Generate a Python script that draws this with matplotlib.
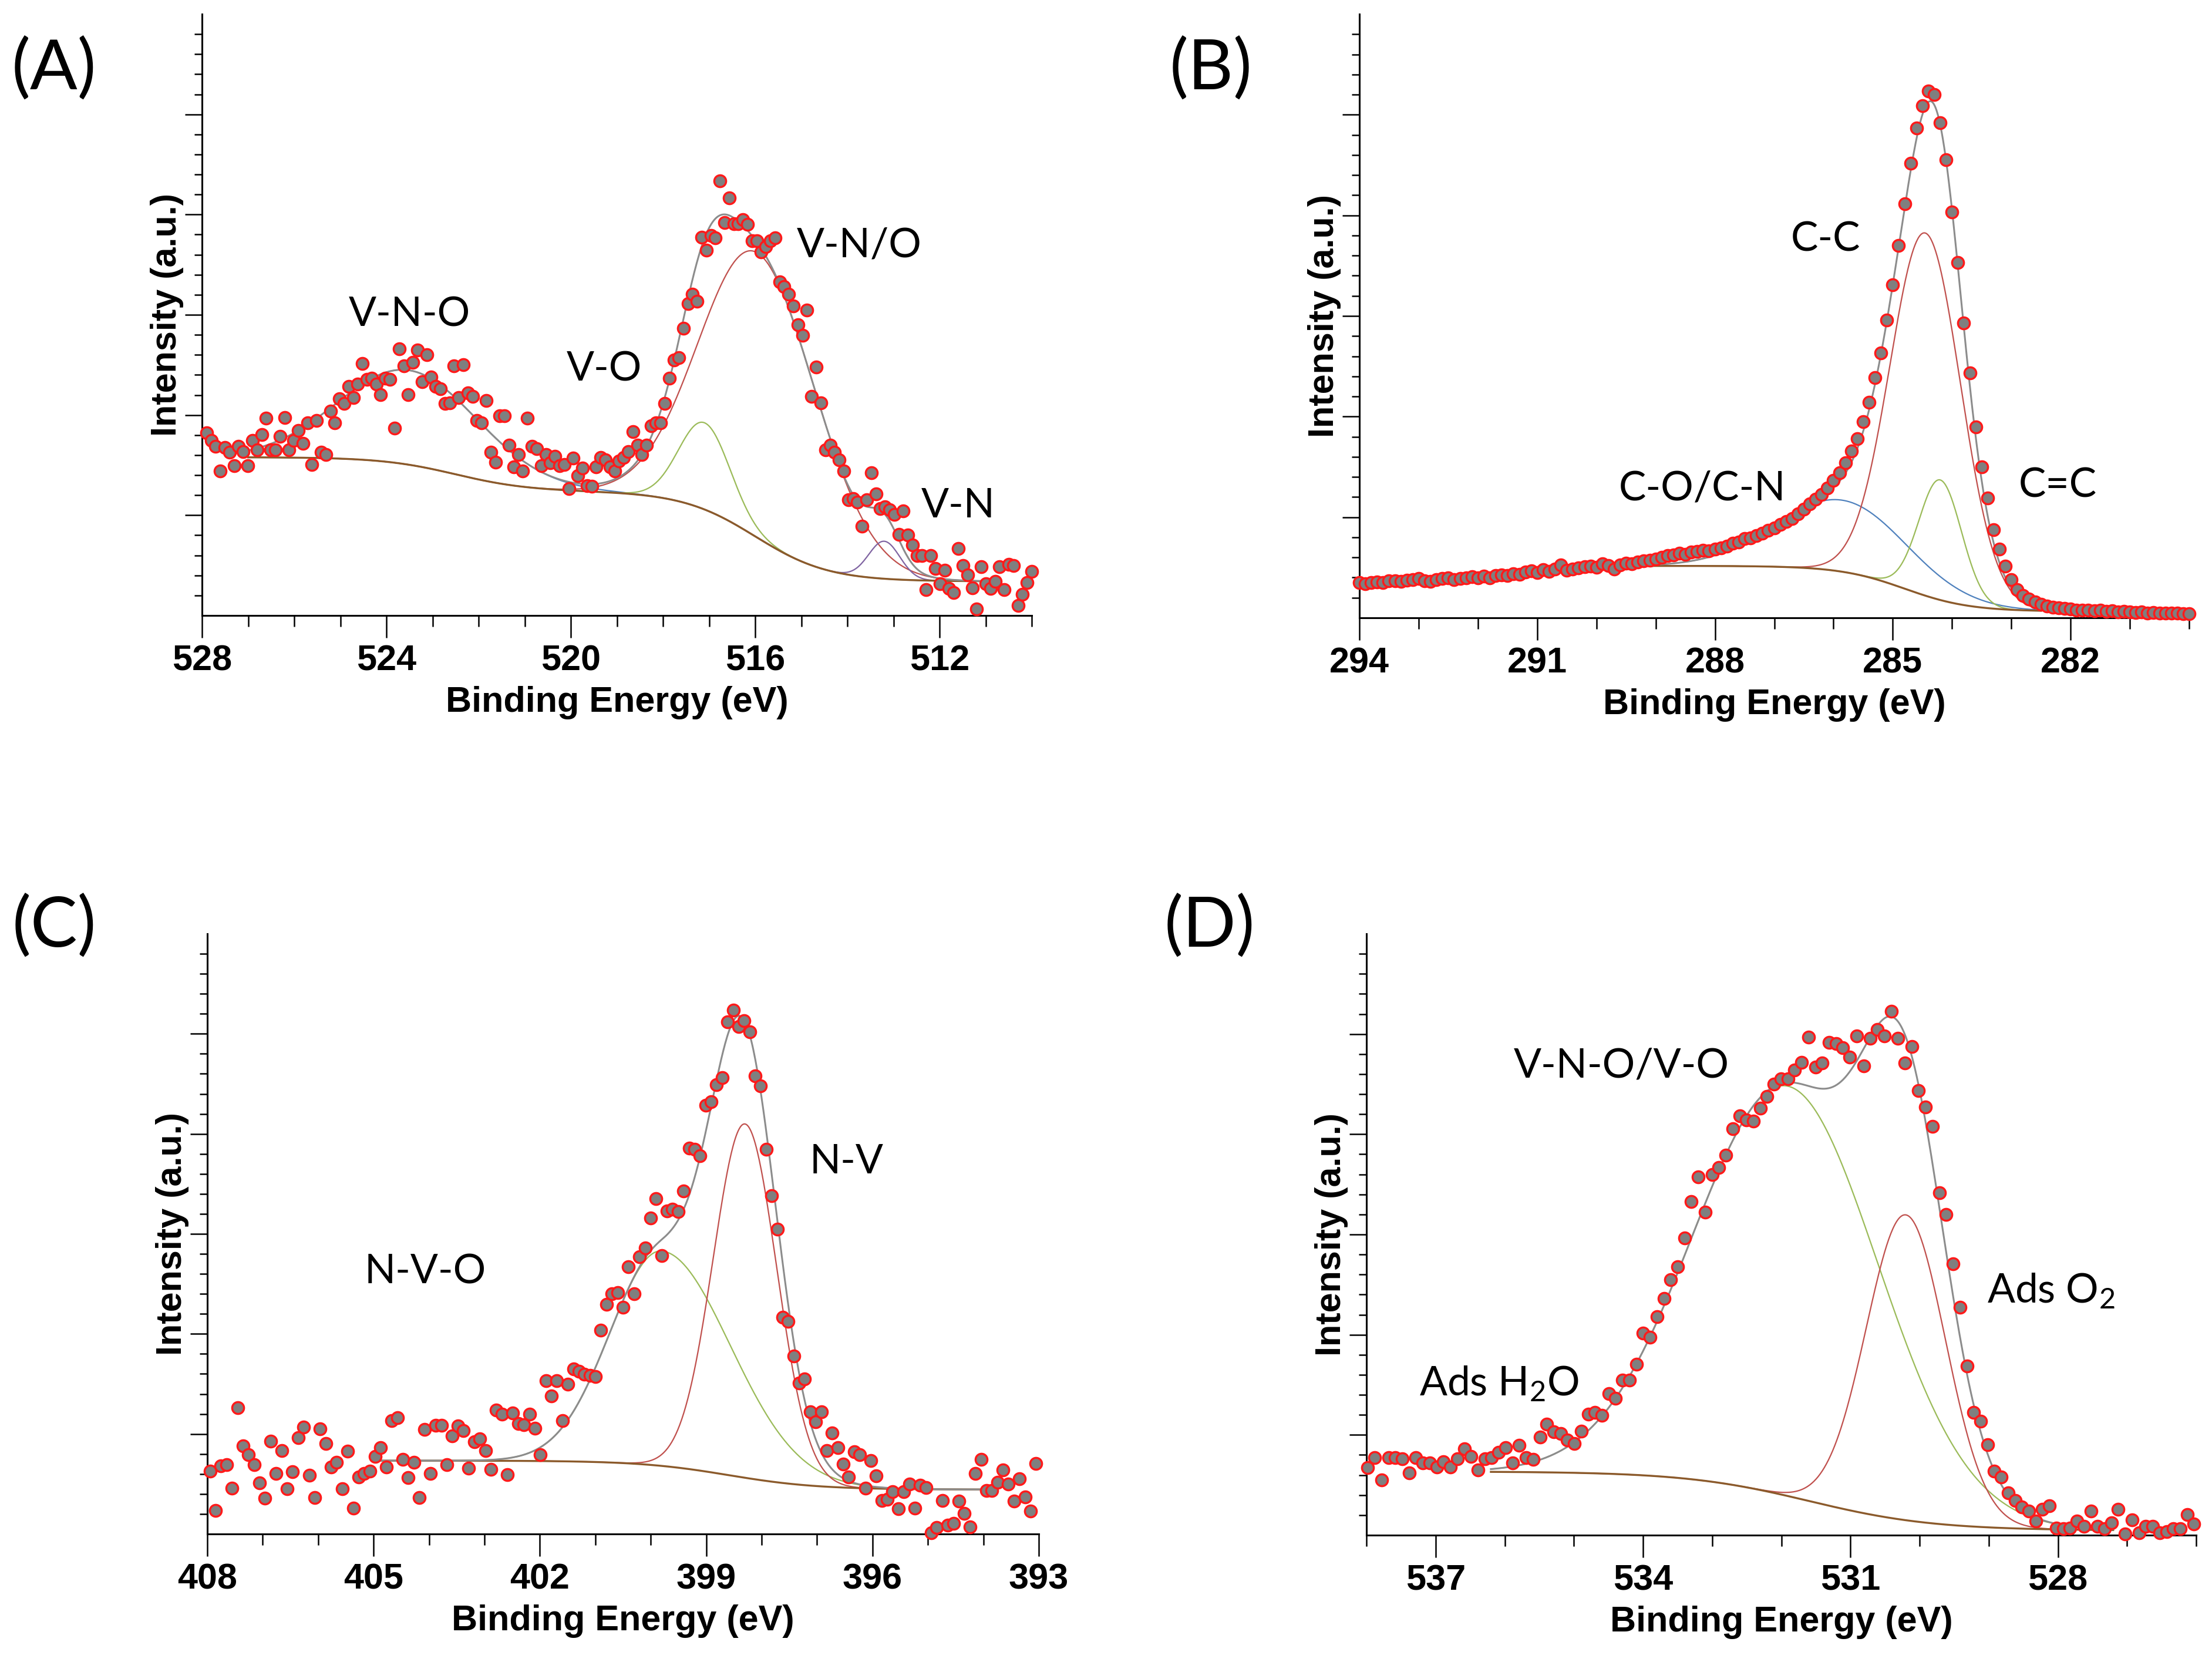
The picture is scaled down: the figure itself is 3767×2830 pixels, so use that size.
import numpy as np
import matplotlib.pyplot as plt
from matplotlib import font_manager
from matplotlib.ticker import FixedLocator

plt.rcParams['font.family'] = ['Liberation Sans', 'DejaVu Sans']
plt.rcParams['mathtext.fontset'] = 'custom'
plt.rcParams['mathtext.rm'] = 'Lato'
plt.rcParams['mathtext.it'] = 'Lato'

# axis text is a condensed bold face; use the narrow Liberation cut when it exists
installed = {f.name for f in font_manager.fontManager.ttflist}
if 'Liberation Sans Narrow' in installed:
    AXFONT, AXSIZE = 'Liberation Sans Narrow', 54
else:
    AXFONT, AXSIZE = 'Liberation Sans', 44

W, H = 3767, 2830
DPI = 100

# ---------------- (A) V 2p ----------------
a_start, a_stop = 527.9, 510.0
a_counts = [375, 360, 347, 297, 345, 335, 307, 347, 337, 307,
            360, 340, 372, 405, 340, 340, 368, 407, 340, 360,
            380, 353, 395, 310, 400, 335, 330, 420, 395, 445,
            435, 470, 447, 475, 517, 485, 487, 475, 453, 487,
            485, 385, 547, 513, 453, 520, 545, 480, 535, 490,
            470, 465, 435, 437, 513, 447, 515, 457, 450, 400,
            395, 442, 335, 315, 410, 410, 350, 305, 330, 297,
            405, 347, 343, 307, 330, 313, 327, 307, 310, 260,
            323, 287, 303, 267, 265, 305, 325, 320, 305, 297,
            317, 325, 337, 377, 350, 330, 350, 390, 395, 395,
            435, 487, 525, 530, 590, 640, 660, 645, 777, 750,
            780, 775, 893, 807, 857, 805, 805, 813, 803, 770,
            770, 747, 757, 770, 775, 685, 675, 660, 635, 597,
            575, 627, 450, 510, 437, 340, 350, 335, 320, 297,
            237, 240, 233, 183, 237, 293, 250, 220, 223, 217,
            207, 167, 215, 165, 145, 123, 123, 53, 123, 97,
            65, 93, 55, 47, 137, 103, 83, 57, 13, 100,
            65, 55, 70, 100, 53, 105, 103, 20, 43, 67, 90]
a_ymax = 1235
a_xlim = (528, 510)
a_xticks = [528, 524, 520, 516, 512]
a_fit = (527.0, 510.9)
a_bg_base = 70
a_bg_step = [185, 70]
a_bg_center = [516.0, 522.5]
a_bg_width = [0.8, 0.8]
a_pk_center = [523.5, 517.1, 515.95, 513.2]
a_pk_height = [194, 178, 585, 77]
a_pk_fwhm_hi = [3.6, 1.3, 2.9, 0.8]
a_pk_fwhm_lo = [3.6, 1.3, 3.0, 0.8]
a_pk_color = ['#4f81bd', '#9bbb59', '#c0504d', '#8064a2']
a_labels = ['V-N-O', 'V-O', 'V-N/O', 'V-N']
a_label_x = [523.5, 519.27, 513.74, 511.6]
a_label_y = [617, 505, 760, 225]

# ---------------- (B) C 1s ----------------
b_start, b_stop = 294.0, 280.0
b_counts = [72, 70, 72, 73, 72, 75, 76, 74, 77, 78, 80,
            76, 74, 78, 80, 81, 78, 80, 82, 84, 82,
            85, 82, 86, 88, 86, 90, 89, 93, 96, 92,
            98, 95, 100, 108, 97, 100, 102, 104, 106, 103,
            110, 107, 100, 108, 112, 110, 114, 116, 118, 120,
            124, 127, 128, 132, 130, 134, 136, 138, 137, 140,
            143, 146, 152, 155, 162, 163, 168, 172, 178, 183,
            190, 196, 203, 212, 222, 232, 242, 252, 265, 280,
            296, 316, 340, 366, 400, 440, 490, 540, 608, 680,
            760, 845, 928, 1000, 1045, 1075, 1068, 1010, 935, 828,
            725, 602, 500, 390, 308, 245, 180, 140, 105, 78,
            58, 46, 38, 32, 28, 24, 22, 20, 19, 18,
            16, 16, 15, 14, 15, 13, 14, 12, 13, 12,
            11, 12, 10, 11, 10, 9, 10, 9, 8, 8]
b_ymax = 1232
b_xlim = (294, 280)
b_xticks = [294, 291, 288, 285, 282]
b_fit = (289.9, 282.5)
b_bg_base = 13
b_bg_step = [93]
b_bg_center = [284.8]
b_bg_width = [0.55]
b_pk_center = [285.85, 284.45, 284.2]
b_pk_height = [146, 740, 245]
b_pk_fwhm_hi = [2.6, 1.4, 0.85]
b_pk_fwhm_lo = [2.6, 1.4, 0.85]
b_pk_color = ['#4f81bd', '#c0504d', '#9bbb59']
b_labels = ['C-C', 'C-O/C-N', 'C=C']
b_label_x = [286.13, 288.21, 282.22]
b_label_y = [772, 264, 270]

# ---------------- (C) N 1s ----------------
c_start, c_stop = 407.95, 393.05
c_counts = [122, 45, 132, 134, 89, 245, 170, 154, 134, 99,
            69, 180, 117, 162, 87, 120, 187, 207, 114, 70,
            204, 175, 130, 139, 87, 160, 50, 110, 117, 122,
            150, 167, 130, 220, 225, 144, 109, 139, 70, 202,
            117, 210, 210, 134, 190, 209, 200, 127, 179, 184,
            162, 125, 240, 232, 115, 234, 214, 212, 232, 205,
            154, 297, 267, 297, 220, 290, 319, 315, 309, 307,
            305, 395, 444, 465, 467, 439, 517, 465, 537, 554,
            612, 649, 539, 625, 629, 624, 664, 747, 745, 732,
            830, 837, 870, 884, 992, 1014, 982, 994, 972, 887,
            867, 745, 655, 590, 419, 412, 345, 292, 300, 237,
            217, 237, 162, 195, 167, 135, 110, 159, 154, 89,
            142, 112, 65, 67, 82, 49, 82, 97, 50, 94,
            90, 2, 12, 65, 17, 20, 64, 40, 14, 117,
            144, 84, 84, 100, 124, 97, 64, 107, 72, 44, 137]
c_ymax = 1162
c_xlim = (408, 393)
c_xticks = [408, 405, 402, 399, 396, 393]
c_fit = (404.9, 394.0)
c_bg_base = 86
c_bg_step = [56]
c_bg_center = [398.6]
c_bg_width = [0.8]
c_pk_center = [399.8, 398.3]
c_pk_height = [416, 685]
c_pk_fwhm_hi = [2.2, 1.35]
c_pk_fwhm_lo = [2.9, 1.35]
c_pk_color = ['#9bbb59', '#c0504d']
c_labels = ['N-V-O', 'N-V']
c_label_x = [404.07, 396.47]
c_label_y = [507, 720]

# ---------------- (D) O 1s ----------------
d_start, d_stop = 537.98, 526.03
d_counts = [130, 150, 107, 150, 150, 147, 120, 150, 140, 140,
            132, 142, 132, 147, 167, 152, 126, 147, 150, 160,
            169, 140, 174, 150, 146, 190, 214, 200, 196, 184,
            177, 201, 234, 237, 232, 274, 264, 300, 300, 330,
            390, 382, 422, 457, 494, 519, 574, 644, 692, 624,
            697, 710, 734, 785, 810, 802, 800, 825, 848, 872,
            882, 882, 899, 914, 962, 904, 912, 952, 950, 942,
            924, 964, 907, 960, 977, 964, 1012, 960, 912, 944,
            859, 827, 790, 662, 620, 524, 440, 327, 237, 220,
            175, 124, 112, 82, 67, 54, 47, 27, 50, 57,
            14, 12, 14, 27, 17, 47, 17, 12, 24, 50,
            2, 30, 4, 17, 17, 4, 7, 12, 12, 40, 22]
d_ymax = 1162
d_xlim = (538, 526)
d_xticks = [537, 534, 531, 528]
d_fit = (536.2, 527.2)
d_bg_base = 9
d_bg_step = [114]
d_bg_center = [531.6]
d_bg_width = [0.9]
d_pk_center = [531.9, 530.2]
d_pk_height = [792, 590]
d_pk_fwhm_hi = [3.2, 1.35]
d_pk_fwhm_lo = [3.1, 1.35]
d_pk_color = ['#9bbb59', '#c0504d']
d_labels = ['V-N-O/V-O', 'Ads O$_2$', 'Ads H$_2$O']
d_label_x = [534.31, 528.1, 536.08]
d_label_y = [907, 472, 292]


def shirley(e, base, steps, centers, widths):
    out = np.full_like(e, float(base))
    for s, c, w in zip(steps, centers, widths):
        out += s / (1 + np.exp(-(e - c) / w))
    return out


def gauss(e, c, h, f_hi, f_lo):
    f = np.where(e >= c, f_hi, f_lo)
    return h * np.exp(-4 * np.log(2) * ((e - c) / f) ** 2)


def panel(ax, start, stop, counts, ymax, xlim, xticks, fit,
          bg_base, bg_step, bg_center, bg_width,
          pk_center, pk_height, pk_hi, pk_lo, pk_color,
          labels, lx, ly):
    energy = np.linspace(start, stop, len(counts))
    e = np.linspace(fit[0], fit[1], 600)
    bg = shirley(e, bg_base, bg_step, bg_center, bg_width)
    total = bg.copy()
    for c, h, fh, fl, col in zip(pk_center, pk_height, pk_hi, pk_lo, pk_color):
        p = gauss(e, c, h, fh, fl)
        total += p
        ax.plot(e, bg + p, color=col, lw=1.6, zorder=2)
    ax.plot(e, bg, color='#8b5a2b', lw=2.4, zorder=2.2)
    ax.plot(e, total, color='#8c8c8c', lw=2.2, zorder=2.4)
    ax.plot(energy, counts, 'o', ms=14.5, mfc='#7f7f7f', mec='#ff1a1a',
            mew=2.5, clip_on=False, zorder=3)

    ax.set_xlim(*xlim)
    ax.set_ylim(0, ymax)
    lo, hi = min(xlim), max(xlim)
    ax.set_xticks(xticks)
    ax.set_xticklabels([str(t) for t in xticks], fontweight='bold',
                       family=AXFONT, fontsize=AXSIZE)
    ax.xaxis.set_minor_locator(FixedLocator(np.arange(lo, hi + 1)))
    step = ymax / 6
    ax.yaxis.set_major_locator(FixedLocator([step * k for k in range(1, 6)]))
    ax.yaxis.set_minor_locator(FixedLocator([step / 5 * k for k in range(1, 30) if k % 5]))
    ax.tick_params(axis='x', which='major', length=27, width=1.8, pad=9)
    ax.tick_params(axis='x', which='minor', length=14, width=1.8)
    ax.tick_params(axis='y', which='major', length=21, width=1.8, labelleft=False)
    ax.tick_params(axis='y', which='minor', length=9.5, width=1.8)
    for s in ['top', 'right']:
        ax.spines[s].set_visible(False)
    for s in ['left', 'bottom']:
        ax.spines[s].set_linewidth(2.2)
    ax.set_xlabel('Binding Energy (eV)', fontsize=AXSIZE, fontweight='bold', family=AXFONT)
    ax.set_ylabel('Intensity (a.u.)', fontsize=AXSIZE, fontweight='bold', family=AXFONT)
    ax.xaxis.set_label_coords(0.5, -0.117)
    ax.yaxis.set_label_coords(-0.022, 0.5)
    for t, x, y in zip(labels, lx, ly):
        ax.text(x, y, t, ha='center', va='center', fontsize=50, family='Lato')


fig = plt.figure(figsize=(W / DPI, H / DPI), dpi=DPI)


def box(left, top, right, bottom):
    return [left / W, 1 - bottom / H, (right - left) / W, (bottom - top) / H]


ax_a = fig.add_axes(box(344, 24, 1757, 1048))
ax_b = fig.add_axes(box(2315, 24, 3728, 1052))
ax_c = fig.add_axes(box(353, 1590, 1769, 2612))
ax_d = fig.add_axes(box(2327, 1590, 3740, 2614))

panel(ax_a, a_start, a_stop, a_counts, a_ymax, a_xlim, a_xticks, a_fit,
      a_bg_base, a_bg_step, a_bg_center, a_bg_width,
      a_pk_center, a_pk_height, a_pk_fwhm_hi, a_pk_fwhm_lo, a_pk_color,
      a_labels, a_label_x, a_label_y)
panel(ax_b, b_start, b_stop, b_counts, b_ymax, b_xlim, b_xticks, b_fit,
      b_bg_base, b_bg_step, b_bg_center, b_bg_width,
      b_pk_center, b_pk_height, b_pk_fwhm_hi, b_pk_fwhm_lo, b_pk_color,
      b_labels, b_label_x, b_label_y)
panel(ax_c, c_start, c_stop, c_counts, c_ymax, c_xlim, c_xticks, c_fit,
      c_bg_base, c_bg_step, c_bg_center, c_bg_width,
      c_pk_center, c_pk_height, c_pk_fwhm_hi, c_pk_fwhm_lo, c_pk_color,
      c_labels, c_label_x, c_label_y)
panel(ax_d, d_start, d_stop, d_counts, d_ymax, d_xlim, d_xticks, d_fit,
      d_bg_base, d_bg_step, d_bg_center, d_bg_width,
      d_pk_center, d_pk_height, d_pk_fwhm_hi, d_pk_fwhm_lo, d_pk_color,
      d_labels, d_label_x, d_label_y)

for txt, x, y in [('(A)', 92, 118), ('(B)', 2062, 118), ('(C)', 92, 1578), ('(D)', 2060, 1578)]:
    fig.text(x / W, 1 - y / H, txt, ha='center', va='center', fontsize=86, family='Lato')

fig.savefig('out.png', dpi=DPI)
